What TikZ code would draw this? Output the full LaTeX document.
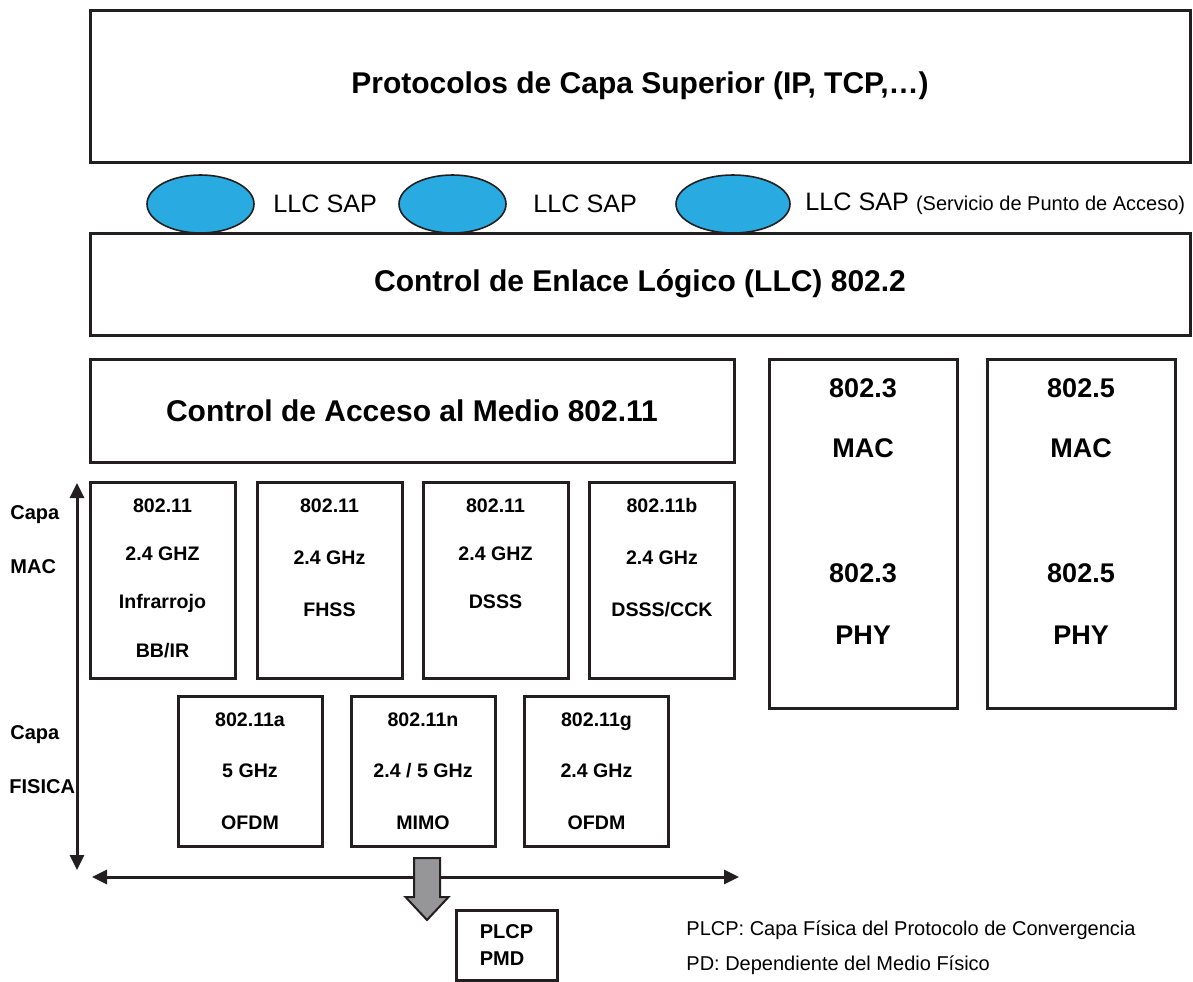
\documentclass[tikz,border=0pt]{standalone}
\usepackage{fontspec}
\setmainfont{Liberation Sans}
\usetikzlibrary{shapes.geometric, arrows.meta, positioning}
\definecolor{ink}{RGB}{35,31,32}
\definecolor{sapblue}{RGB}{41,171,226}
\definecolor{plcpgray}{RGB}{150,150,152}

\begin{document}
\begin{tikzpicture}[x=0.5pt, y=-0.5pt,
    layer/.style={draw=ink, line width=1.5pt, inner sep=0pt, align=center},
    bigtxt/.style={font=\bfseries\fontsize{15}{18}\selectfont},
    macbox/.style={layer, minimum width=72.5pt, minimum height=98pt},
    phybox/.style={layer, minimum width=72pt, minimum height=75pt,
                   font=\bfseries\fontsize{9.8}{25.75}\selectfont},
    lanbox/.style={layer, minimum width=94pt, minimum height=174.5pt},
    boxtxt/.style={anchor=north, inner sep=0pt, align=center,
                   font=\bfseries\fontsize{9.8}{#1}\selectfont},
    boxtxt/.default=24.2,
    lantxt/.style={anchor=north, inner sep=0pt, align=center,
                   font=\bfseries\fontsize{13.5}{30}\selectfont},
    sap/.style={ellipse, draw=ink, line width=0.8pt, fill=sapblue, inner sep=0pt,
                minimum width=53.5pt, minimum height=29pt},
    saptxt/.style={anchor=west, inner sep=0pt, font=\fontsize{12.6}{15}\selectfont},
    side/.style={anchor=west, inner sep=0pt, font=\bfseries\fontsize{10}{12}\selectfont},
    note/.style={anchor=west, inner sep=0pt, font=\fontsize{10}{12}\selectfont},
    axis/.style={ink, line width=1.5pt,
                 {Triangle[length=7.5pt,width=7pt]}-{Triangle[length=7.5pt,width=7pt]}}
  ]
  \useasboundingbox (0,0) rectangle (1193,981);

  % upper layers
  \node[layer, bigtxt, minimum width=550pt, minimum height=76pt] (upper) at (640,86)
    {Protocolos de Capa Superior (IP, TCP,\ldots)};
  \node[layer, bigtxt, minimum width=550pt, minimum height=51pt] (llc) at (640,284)
    {Control de Enlace Lógico (LLC) 802.2};

  % service access points
  \node[sap] (sap1) at (200.5,204) {};
  \node[sap] (sap2) at (452.5,204) {};
  \node[sap, minimum width=57pt] (sap3) at (733,204) {};
  \node[saptxt] (sap1txt) at (273,204) {LLC SAP};
  \node[saptxt] (sap2txt) at (533,204) {LLC SAP};
  \node[saptxt] (sap3txt) at (805,204)
    {LLC SAP {\fontsize{10}{12}\selectfont(Servicio de Punto de Acceso)}};

  % 802.11 MAC
  \node[layer, bigtxt, minimum width=322pt, minimum height=51.5pt] (mac) at (412,410.5)
    {Control de Acceso al Medio 802.11};

  % first row of 802.11 variants
  \node[macbox] (ir) at (162.5,580) {};
  \node[macbox] (fhss) at (329.5,580) {};
  \node[macbox] (dsss) at (495.5,580) {};
  \node[macbox] (cck) at (662,580) {};
  \node[boxtxt] (irtxt) at (162.5,498) {802.11\\2.4 GHZ\\Infrarrojo\\BB/IR};
  \node[boxtxt=26] (fhsstxt) at (329.5,498) {802.11\\2.4 GHz\\FHSS};
  \node[boxtxt] (dssstxt) at (495.5,498) {802.11\\2.4 GHZ\\DSSS};
  \node[boxtxt=26] (ccktxt) at (662,498) {802.11b\\2.4 GHz\\DSSS/CCK};

  % second row of 802.11 variants
  \node[phybox] (ofdma) at (250,771) {802.11a\\5 GHz\\OFDM};
  \node[phybox] (mimo) at (423,771) {802.11n\\2.4 / 5 GHz\\MIMO};
  \node[phybox] (ofdmg) at (596.5,771) {802.11g\\2.4 GHz\\OFDM};

  % other LANs
  \node[lanbox] (eth) at (863,533.5) {};
  \node[lanbox] (ring) at (1081,533.5) {};
  \node[lantxt] (ethtxt) at (863,378.5) {802.3\\MAC\\[32.5pt]802.3\\[1pt]PHY};
  \node[lantxt] (ringtxt) at (1081,378.5) {802.5\\MAC\\[32.5pt]802.5\\[1pt]PHY};

  % side labels and axes
  \node[side] (capa1) at (10,515) {Capa};
  \node[side] (macl) at (10,567) {MAC};
  \node[side] (capa2) at (10,735) {Capa};
  \node[side] (fisl) at (9,787) {FISICA};
  \coordinate (vtop) at (77,483);
  \coordinate (vbot) at (77,870);
  \coordinate (hleft) at (92,877);
  \coordinate (hright) at (739,877);
  \draw[axis] (vbot) -- (vtop);
  \draw[axis] (hleft) -- (hright);

  % block arrow down to PLCP/PMD
  \draw[draw=ink, line width=1pt, fill=plcpgray]
    (414,858) -- (440,858) -- (440,897) -- (448.5,897) -- (427,920)
    -- (405.5,897) -- (414,897) -- cycle;
  \node[layer, align=left, minimum width=50.5pt, minimum height=35pt,
        font=\bfseries\fontsize{10}{13.5}\selectfont] (plcp) at (506.5,945) {PLCP\\PMD};

  % legend
  \node[note] (leg1) at (686,930) {PLCP: Capa Física del Protocolo de Convergencia};
  \node[note] (leg2) at (686,965) {PD: Dependiente del Medio Físico};
\end{tikzpicture}
\end{document}
